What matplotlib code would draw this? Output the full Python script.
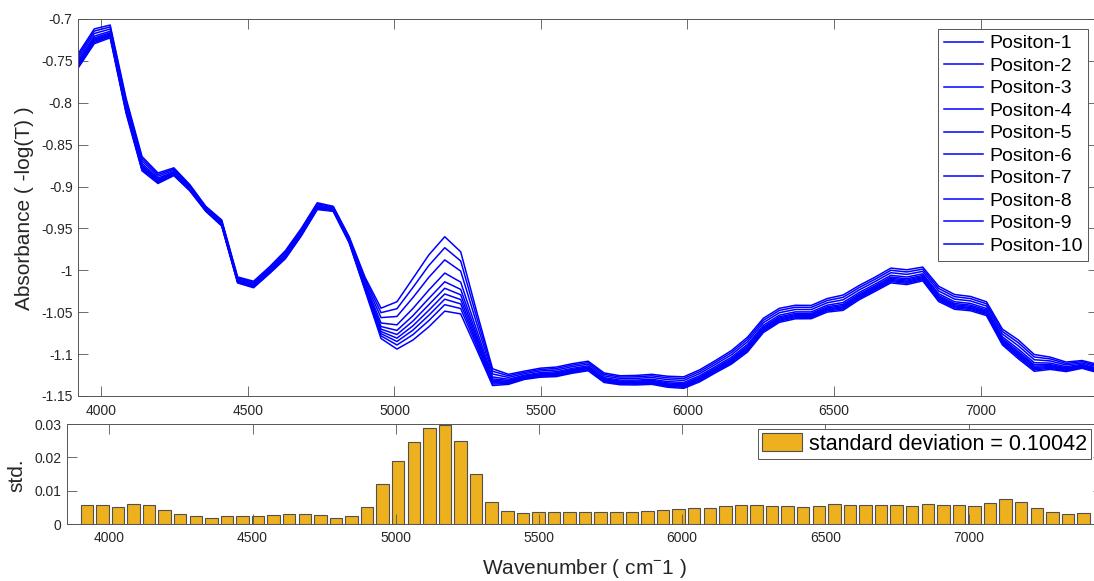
import matplotlib
matplotlib.use("Agg")
import matplotlib.pyplot as plt
import numpy as np

plt.rcParams['font.family'] = ['Liberation Sans', 'DejaVu Sans']
plt.rcParams['mathtext.fontset'] = 'custom'
plt.rcParams['mathtext.rm'] = 'Liberation Sans'
plt.rcParams['axes.unicode_minus'] = False

# wavenumber grid (65 points, uniformly spaced)
wavenumber = np.linspace(3921, 7401, 65)

# mean absorbance of the 10 positions
mean_abs = [-0.751, -0.722, -0.716, -0.805, -0.874, -0.891, -0.883, -0.902, -0.927, -0.944,
            -1.012, -1.0175, -1.0005, -0.982, -0.955, -0.924, -0.927, -0.964, -1.0175, -1.066,
            -1.070, -1.052, -1.031, -1.011, -1.0205, -1.075, -1.129, -1.131, -1.126, -1.123,
            -1.122, -1.118, -1.115, -1.129, -1.132, -1.132, -1.131, -1.134, -1.135, -1.127,
            -1.116, -1.105, -1.090, -1.067, -1.055, -1.051, -1.051, -1.043, -1.040, -1.028,
            -1.018, -1.0075, -1.0095, -1.0056, -1.0295, -1.039, -1.041, -1.047, -1.081, -1.096,
            -1.112, -1.112, -1.116, -1.113, -1.118]

# standard deviation per wavenumber (bottom bars)
std_abs = [0.0057, 0.0059, 0.0051, 0.0060, 0.0057, 0.0042, 0.0031, 0.0025, 0.0020, 0.0024,
           0.0024, 0.0026, 0.0027, 0.0032, 0.0030, 0.0027, 0.0020, 0.0024, 0.0053, 0.0121,
           0.0189, 0.0246, 0.0287, 0.0297, 0.0248, 0.0151, 0.0067, 0.0040, 0.0033, 0.0036,
           0.0038, 0.0038, 0.0038, 0.0038, 0.0036, 0.0038, 0.0040, 0.0044, 0.0046, 0.0048,
           0.0049, 0.0054, 0.0059, 0.0057, 0.0056, 0.0054, 0.0053, 0.0054, 0.0061, 0.0057,
           0.0057, 0.0059, 0.0059, 0.0055, 0.0061, 0.0059, 0.0057, 0.0055, 0.0063, 0.0075,
           0.0067, 0.0049, 0.0038, 0.0031, 0.0033]

# offset of each position from the mean, in units of std (read at the 5180 peak)
position_offset = [1.72, 1.28, 0.79, 0.26, -0.09, -0.35, -0.58, -0.79, -1.01, -1.27]
position_names = ['Positon-%d' % (i + 1) for i in range(10)]

std_label = 'standard deviation = 0.10042'

mean_abs = np.array(mean_abs)
std_abs = np.array(std_abs)

W, H = 1094, 581
fig = plt.figure(figsize=(W / 100, H / 100), dpi=100)
ax1 = fig.add_axes([78.3 / W, 1 - 396 / H, (1098 - 78.3) / W, (396 - 19) / H])
ax2 = fig.add_axes([67.3 / W, 1 - 524.3 / H, (1103 - 67.3) / W, (524.3 - 424) / H])

for name, off in zip(position_names, position_offset):
    ax1.plot(wavenumber, mean_abs + off * std_abs, color='#0000ff', lw=1.1, label=name)

ax1.set_xlim(3921, 7401)
ax1.set_ylim(-1.15, -0.7)
yt = np.arange(-1.15, -0.699, 0.05)
ax1.set_yticks(yt)
ax1.set_yticklabels(['%g' % round(v, 2) for v in yt])
ax1.set_xticks([4000, 4500, 5000, 5500, 6000, 6500, 7000])

bars = ax2.bar(wavenumber, std_abs, width=0.8 * (wavenumber[1] - wavenumber[0]),
               color='#EDB120', edgecolor='#505050', linewidth=0.8)
ax2.set_xlim(3853, 7469)
ax2.set_ylim(0, 0.03)
ax2.set_yticks([0, 0.01, 0.02, 0.03])
ax2.set_yticklabels(['0', '0.01', '0.02', '0.03'])
ax2.set_xticks([4000, 4500, 5000, 5500, 6000, 6500, 7000])

for ax in (ax1, ax2):
    for s in ax.spines.values():
        s.set_color('#555555')
        s.set_linewidth(0.7)
    ax.tick_params(direction='in', top=True, right=True, length=7, width=0.6,
                   color='#555555', labelsize=10, labelcolor='#262626')
ax1.tick_params(axis='x', pad=6)
ax1.tick_params(axis='y', pad=4)
ax2.tick_params(axis='x', pad=5)
ax2.tick_params(axis='y', pad=4)

leg = ax1.legend(loc='upper right', bbox_to_anchor=(1088.3 / W, 1 - 29 / H),
                 bbox_transform=fig.transFigure, fontsize=14, fancybox=False,
                 edgecolor='#555555', framealpha=1, borderpad=0.3, labelspacing=0.25,
                 handlelength=2.0, handletextpad=0.3, borderaxespad=0)
leg.get_frame().set_linewidth(0.7)

leg2 = ax2.legend([bars], [std_label], loc='upper right',
                  bbox_to_anchor=(1091 / W, 1 - 429 / H), bbox_transform=fig.transFigure,
                  fontsize=15.5, fancybox=False, edgecolor='#555555', framealpha=1,
                  borderpad=0.2, handlelength=1.85, handleheight=0.9, handletextpad=0.3,
                  borderaxespad=0)
leg2.get_frame().set_linewidth(0.7)

fig.text(25 / W, 1 - 208 / H, 'Absorbance ( -log(T) )', rotation=90,
         ha='center', va='center', fontsize=15, color='#262626')
fig.text(17 / W, 1 - 475 / H, 'std.', rotation=90, ha='center', va='center',
         fontsize=15, color='#262626')
fig.text(584 / W, 1 - 568 / H, 'Wavenumber ( cm$^{-}$1 )', ha='center', va='center',
         fontsize=15, color='#262626')

fig.savefig('out.png', dpi=100)
